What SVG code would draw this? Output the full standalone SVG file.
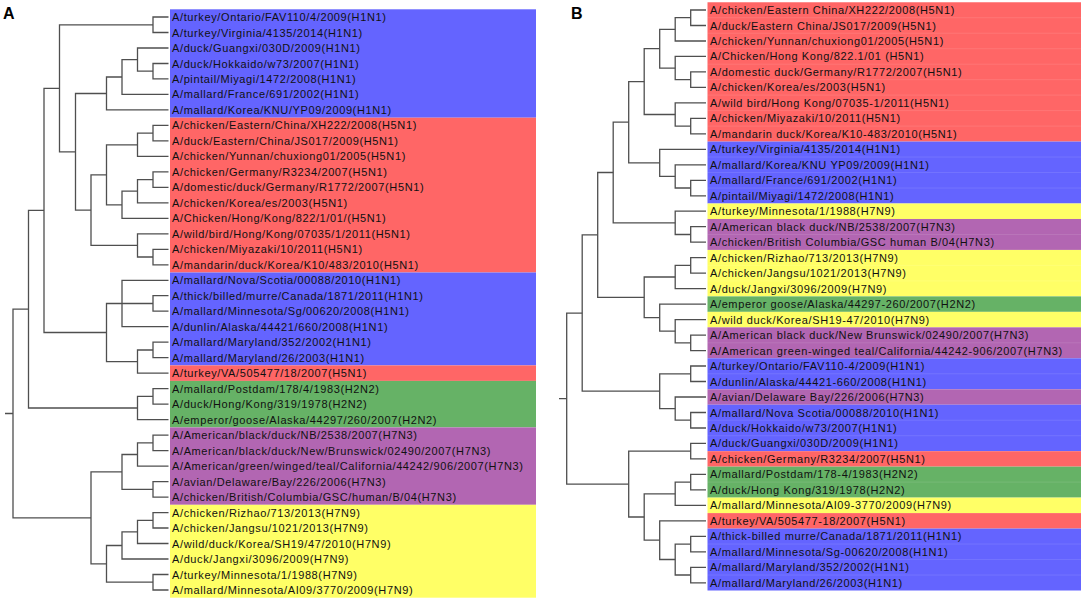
<svg xmlns="http://www.w3.org/2000/svg" width="1084" height="603" viewBox="0 0 1084 603">
<style>
.bl{fill:#6464ff}.rd{fill:#ff6666}.gr{fill:#66b266}.pu{fill:#b266b2}.ye{fill:#ffff66}
text{font-family:"Liberation Sans",Arial,sans-serif;font-size:11px;letter-spacing:0.62px;fill:#111}
.pl{font-size:16px;font-weight:bold;letter-spacing:0;fill:#000}
.br{fill:none;stroke:#4f4f4f;stroke-width:1.3}
.sep{stroke:#fff;stroke-opacity:0.18;stroke-width:0.6}
</style>
<rect width="1084" height="603" fill="#fff"/>
<g id="bands-A">
<rect class="bl" x="170" y="9.3" width="366" height="108.4"/>
<rect class="rd" x="170" y="117.7" width="366" height="154.8"/>
<rect class="bl" x="170" y="272.5" width="366" height="92.9"/>
<rect class="rd" x="170" y="365.4" width="366" height="15.5"/>
<rect class="gr" x="170" y="380.9" width="366" height="46.5"/>
<rect class="pu" x="170" y="427.4" width="366" height="77.4"/>
<rect class="ye" x="170" y="504.8" width="366" height="92.9"/>
</g>
<g id="bands-B">
<rect class="rd" x="707.5" y="2.26" width="373.5" height="139.32"/>
<rect class="bl" x="707.5" y="141.58" width="373.5" height="61.92"/>
<rect class="ye" x="707.5" y="203.5" width="373.5" height="15.48"/>
<rect class="pu" x="707.5" y="218.98" width="373.5" height="30.96"/>
<rect class="ye" x="707.5" y="249.94" width="373.5" height="46.44"/>
<rect class="gr" x="707.5" y="296.38" width="373.5" height="15.48"/>
<rect class="ye" x="707.5" y="311.86" width="373.5" height="15.48"/>
<rect class="pu" x="707.5" y="327.34" width="373.5" height="30.96"/>
<rect class="bl" x="707.5" y="358.3" width="373.5" height="30.96"/>
<rect class="pu" x="707.5" y="389.26" width="373.5" height="15.48"/>
<rect class="bl" x="707.5" y="404.74" width="373.5" height="46.44"/>
<rect class="rd" x="707.5" y="451.18" width="373.5" height="15.48"/>
<rect class="gr" x="707.5" y="466.66" width="373.5" height="30.96"/>
<rect class="ye" x="707.5" y="497.62" width="373.5" height="15.48"/>
<rect class="rd" x="707.5" y="513.1" width="373.5" height="15.48"/>
<rect class="bl" x="707.5" y="528.58" width="373.5" height="61.92"/>
<path class="sep" d="M707.5 17.74H1081M707.5 33.22H1081M707.5 48.7H1081M707.5 64.18H1081M707.5 79.66H1081M707.5 95.14H1081M707.5 110.62H1081M707.5 126.1H1081M707.5 157.06H1081M707.5 172.54H1081M707.5 188.02H1081M707.5 234.46H1081M707.5 265.42H1081M707.5 280.9H1081M707.5 342.82H1081M707.5 373.78H1081M707.5 420.22H1081M707.5 435.7H1081M707.5 482.14H1081M707.5 544.06H1081M707.5 559.54H1081M707.5 575.02H1081"/>
</g>
<text class="pl" x="3" y="19">A</text>
<text class="pl" x="571" y="19">B</text>
<g id="connectors" class="br">
<g id="tree-A">
<path class="br" d="M168.5 17H153V32.5H168.5"/>
<path class="br" d="M168.5 63.5H153V78.9H168.5"/>
<path class="br" d="M168.5 48H137.5V71.2H153"/>
<path class="br" d="M137.5 59.6H122V94.4H168.5"/>
<path class="br" d="M122 77H106.5V109.9H168.5"/>
<path class="br" d="M168.5 125.4H153V140.9H168.5"/>
<path class="br" d="M153 133.1H137.5V156.4H168.5"/>
<path class="br" d="M168.5 171.9H153V187.3H168.5"/>
<path class="br" d="M153 179.6H137.5V202.8H168.5"/>
<path class="br" d="M137.5 191.2H122V218.3H168.5"/>
<path class="br" d="M137.5 144.8H106.5V204.8H122"/>
<path class="br" d="M168.5 249.3H153V264.8H168.5"/>
<path class="br" d="M168.5 233.8H137.5V257H153"/>
<path class="br" d="M106.5 174.8H91V245.4H137.5"/>
<path class="br" d="M106.5 93.5H75.5V210.1H91"/>
<path class="br" d="M153 24.8H59.5V151.8H75.5"/>
<path class="br" d="M168.5 295.7H153V311.2H168.5"/>
<path class="br" d="M168.5 280.3H122V326.7H168.5M122 303.5H153"/>
<path class="br" d="M168.5 342.2H153V357.7H168.5"/>
<path class="br" d="M153 350H137.5V373.2H168.5"/>
<path class="br" d="M122 303.5H106.5V361.6H137.5"/>
<path class="br" d="M59.5 88.3H44V332.5H106.5"/>
<path class="br" d="M168.5 388.7H153V404.1H168.5"/>
<path class="br" d="M153 396.4H137.5V419.6H168.5"/>
<path class="br" d="M44 210.4H28.5V408H137.5"/>
<path class="br" d="M168.5 435.1H153V450.6H168.5"/>
<path class="br" d="M153 442.9H137.5V466.1H168.5"/>
<path class="br" d="M168.5 481.6H153V497.1H168.5"/>
<path class="br" d="M137.5 454.5H122V489.3H153"/>
<path class="br" d="M168.5 512.6H153V528H168.5"/>
<path class="br" d="M153 520.3H137.5V543.5H168.5"/>
<path class="br" d="M137.5 531.9H122V559H168.5"/>
<path class="br" d="M168.5 574.5H153V590H168.5"/>
<path class="br" d="M122 545.5H106.5V582.2H153"/>
<path class="br" d="M122 471.9H91V563.9H106.5"/>
<path class="br" d="M28.5 309.2H13V517.9H91M5 413.5H13"/>
</g>
<g id="tree-B">
<path class="br" d="M706 10H690.7V25.5H706"/>
<path class="br" d="M690.7 17.7H675.2V41H706"/>
<path class="br" d="M706 71.9H690.7V87.4H706"/>
<path class="br" d="M706 56.4H675.2V79.7H690.7"/>
<path class="br" d="M675.2 29.4H659.7V68.1H675.2"/>
<path class="br" d="M706 118.4H690.7V133.8H706"/>
<path class="br" d="M706 102.9H675.2V126.1H690.7"/>
<path class="br" d="M659.7 48.7H644.2V114.5H675.2"/>
<path class="br" d="M706 180.3H690.7V195.8H706"/>
<path class="br" d="M706 164.8H675.2V188H690.7"/>
<path class="br" d="M706 149.3H659.7V176.4H675.2"/>
<path class="br" d="M644.2 81.6H628.7V162.9H659.7"/>
<path class="br" d="M706 226.7H690.7V242.2H706"/>
<path class="br" d="M706 211.2H675.2V234.5H690.7"/>
<path class="br" d="M628.7 122.2H613.2V222.9H675.2"/>
<path class="br" d="M706 257.7H690.7V273.2H706"/>
<path class="br" d="M690.7 265.4H675.2V288.6H706"/>
<path class="br" d="M706 335.1H690.7V350.6H706"/>
<path class="br" d="M706 319.6H675.2V342.8H690.7"/>
<path class="br" d="M706 304.1H659.7V331.2H675.2"/>
<path class="br" d="M675.2 277H644.2V317.7H659.7"/>
<path class="br" d="M613.2 172.5H597.7V297.4H644.2"/>
<path class="br" d="M706 366H690.7V381.5H706"/>
<path class="br" d="M706 412.5H690.7V428H706"/>
<path class="br" d="M706 397H675.2V420.2H690.7"/>
<path class="br" d="M690.7 373.8H659.7V408.6H675.2"/>
<path class="br" d="M597.7 234.9H582.2V391.2H659.7"/>
<path class="br" d="M706 443.4H690.7V458.9H706"/>
<path class="br" d="M706 474.4H690.7V489.9H706"/>
<path class="br" d="M690.7 482.1H675.2V505.4H706"/>
<path class="br" d="M706 536.3H690.7V551.8H706"/>
<path class="br" d="M706 567.3H690.7V582.8H706"/>
<path class="br" d="M690.7 544.1H675.2V575H690.7"/>
<path class="br" d="M706 520.8H659.7V559.5H675.2"/>
<path class="br" d="M675.2 493.8H644.2V540.2H659.7"/>
<path class="br" d="M690.7 451.2H628.7V517H644.2"/>
<path class="br" d="M582.2 313.1H566.7V484.1H628.7M559 398.6H566.7"/>
</g>
</g>
<g id="leaves-A">
<g id="a01"><text x="172" y="21">A/turkey/Ontario/FAV110/4/2009(H1N1)</text></g>
<g id="a02"><text x="172" y="36.5">A/turkey/Virginia/4135/2014(H1N1)</text></g>
<g id="a03"><text x="172" y="52">A/duck/Guangxi/030D/2009(H1N1)</text></g>
<g id="a04"><text x="172" y="67.5">A/duck/Hokkaido/w73/2007(H1N1)</text></g>
<g id="a05"><text x="172" y="82.9">A/pintail/Miyagi/1472/2008(H1N1)</text></g>
<g id="a06"><text x="172" y="98.4">A/mallard/France/691/2002(H1N1)</text></g>
<g id="a07"><text x="172" y="113.9">A/mallard/Korea/KNU/YP09/2009(H1N1)</text></g>
<g id="a08"><text x="172" y="129.4">A/chicken/Eastern/China/XH222/2008(H5N1)</text></g>
<g id="a09"><text x="172" y="144.9">A/duck/Eastern/China/JS017/2009(H5N1)</text></g>
<g id="a10"><text x="172" y="160.4">A/chicken/Yunnan/chuxiong01/2005(H5N1)</text></g>
<g id="a11"><text x="172" y="175.9">A/chicken/Germany/R3234/2007(H5N1)</text></g>
<g id="a12"><text x="172" y="191.3">A/domestic/duck/Germany/R1772/2007(H5N1)</text></g>
<g id="a13"><text x="172" y="206.8">A/chicken/Korea/es/2003(H5N1)</text></g>
<g id="a14"><text x="172" y="222.3">A/Chicken/Hong/Kong/822/1/01/(H5N1)</text></g>
<g id="a15"><text x="172" y="237.8">A/wild/bird/Hong/Kong/07035/1/2011(H5N1)</text></g>
<g id="a16"><text x="172" y="253.3">A/chicken/Miyazaki/10/2011(H5N1)</text></g>
<g id="a17"><text x="172" y="268.8">A/mandarin/duck/Korea/K10/483/2010(H5N1)</text></g>
<g id="a18"><text x="172" y="284.3">A/mallard/Nova/Scotia/00088/2010(H1N1)</text></g>
<g id="a19"><text x="172" y="299.7">A/thick/billed/murre/Canada/1871/2011(H1N1)</text></g>
<g id="a20"><text x="172" y="315.2">A/mallard/Minnesota/Sg/00620/2008(H1N1)</text></g>
<g id="a21"><text x="172" y="330.7">A/dunlin/Alaska/44421/660/2008(H1N1)</text></g>
<g id="a22"><text x="172" y="346.2">A/mallard/Maryland/352/2002(H1N1)</text></g>
<g id="a23"><text x="172" y="361.7">A/mallard/Maryland/26/2003(H1N1)</text></g>
<g id="a24"><text x="172" y="377.2">A/turkey/VA/505477/18/2007(H5N1)</text></g>
<g id="a25"><text x="172" y="392.7">A/mallard/Postdam/178/4/1983(H2N2)</text></g>
<g id="a26"><text x="172" y="408.1">A/duck/Hong/Kong/319/1978(H2N2)</text></g>
<g id="a27"><text x="172" y="423.6">A/emperor/goose/Alaska/44297/260/2007(H2N2)</text></g>
<g id="a28"><text x="172" y="439.1">A/American/black/duck/NB/2538/2007(H7N3)</text></g>
<g id="a29"><text x="172" y="454.6">A/American/black/duck/New/Brunswick/02490/2007(H7N3)</text></g>
<g id="a30"><text x="172" y="470.1">A/American/green/winged/teal/California/44242/906/2007(H7N3)</text></g>
<g id="a31"><text x="172" y="485.6">A/avian/Delaware/Bay/226/2006(H7N3)</text></g>
<g id="a32"><text x="172" y="501.1">A/chicken/British/Columbia/GSC/human/B/04(H7N3)</text></g>
<g id="a33"><text x="172" y="516.6">A/chicken/Rizhao/713/2013(H7N9)</text></g>
<g id="a34"><text x="172" y="532">A/chicken/Jangsu/1021/2013(H7N9)</text></g>
<g id="a35"><text x="172" y="547.5">A/wild/duck/Korea/SH19/47/2010(H7N9)</text></g>
<g id="a36"><text x="172" y="563">A/duck/Jangxi/3096/2009(H7N9)</text></g>
<g id="a37"><text x="172" y="578.5">A/turkey/Minnesota/1/1988(H7N9)</text></g>
<g id="a38"><text x="172" y="594">A/mallard/Minnesota/AI09/3770/2009(H7N9)</text></g>
</g>
<g id="leaves-B">
<g id="b01"><text x="710" y="14">A/chicken/Eastern China/XH222/2008(H5N1)</text></g>
<g id="b02"><text x="710" y="29.5">A/duck/Eastern China/JS017/2009(H5N1)</text></g>
<g id="b03"><text x="710" y="45">A/chicken/Yunnan/chuxiong01/2005(H5N1)</text></g>
<g id="b04"><text x="710" y="60.4">A/Chicken/Hong Kong/822.1/01 (H5N1)</text></g>
<g id="b05"><text x="710" y="75.9">A/domestic duck/Germany/R1772/2007(H5N1)</text></g>
<g id="b06"><text x="710" y="91.4">A/chicken/Korea/es/2003(H5N1)</text></g>
<g id="b07"><text x="710" y="106.9">A/wild bird/Hong Kong/07035-1/2011(H5N1)</text></g>
<g id="b08"><text x="710" y="122.4">A/chicken/Miyazaki/10/2011(H5N1)</text></g>
<g id="b09"><text x="710" y="137.8">A/mandarin duck/Korea/K10-483/2010(H5N1)</text></g>
<g id="b10"><text x="710" y="153.3">A/turkey/Virginia/4135/2014(H1N1)</text></g>
<g id="b11"><text x="710" y="168.8">A/mallard/Korea/KNU YP09/2009(H1N1)</text></g>
<g id="b12"><text x="710" y="184.3">A/mallard/France/691/2002(H1N1)</text></g>
<g id="b13"><text x="710" y="199.8">A/pintail/Miyagi/1472/2008(H1N1)</text></g>
<g id="b14"><text x="710" y="215.2">A/turkey/Minnesota/1/1988(H7N9)</text></g>
<g id="b15"><text x="710" y="230.7">A/American black duck/NB/2538/2007(H7N3)</text></g>
<g id="b16"><text x="710" y="246.2">A/chicken/British Columbia/GSC human B/04(H7N3)</text></g>
<g id="b17"><text x="710" y="261.7">A/chicken/Rizhao/713/2013(H7N9)</text></g>
<g id="b18"><text x="710" y="277.2">A/chicken/Jangsu/1021/2013(H7N9)</text></g>
<g id="b19"><text x="710" y="292.6">A/duck/Jangxi/3096/2009(H7N9)</text></g>
<g id="b20"><text x="710" y="308.1">A/emperor goose/Alaska/44297-260/2007(H2N2)</text></g>
<g id="b21"><text x="710" y="323.6">A/wild duck/Korea/SH19-47/2010(H7N9)</text></g>
<g id="b22"><text x="710" y="339.1">A/American black duck/New Brunswick/02490/2007(H7N3)</text></g>
<g id="b23"><text x="710" y="354.6">A/American green-winged teal/California/44242-906/2007(H7N3)</text></g>
<g id="b24"><text x="710" y="370">A/turkey/Ontario/FAV110-4/2009(H1N1)</text></g>
<g id="b25"><text x="710" y="385.5">A/dunlin/Alaska/44421-660/2008(H1N1)</text></g>
<g id="b26"><text x="710" y="401">A/avian/Delaware Bay/226/2006(H7N3)</text></g>
<g id="b27"><text x="710" y="416.5">A/mallard/Nova Scotia/00088/2010(H1N1)</text></g>
<g id="b28"><text x="710" y="432">A/duck/Hokkaido/w73/2007(H1N1)</text></g>
<g id="b29"><text x="710" y="447.4">A/duck/Guangxi/030D/2009(H1N1)</text></g>
<g id="b30"><text x="710" y="462.9">A/chicken/Germany/R3234/2007(H5N1)</text></g>
<g id="b31"><text x="710" y="478.4">A/mallard/Postdam/178-4/1983(H2N2)</text></g>
<g id="b32"><text x="710" y="493.9">A/duck/Hong Kong/319/1978(H2N2)</text></g>
<g id="b33"><text x="710" y="509.4">A/mallard/Minnesota/AI09-3770/2009(H7N9)</text></g>
<g id="b34"><text x="710" y="524.8">A/turkey/VA/505477-18/2007(H5N1)</text></g>
<g id="b35"><text x="710" y="540.3">A/thick-billed murre/Canada/1871/2011(H1N1)</text></g>
<g id="b36"><text x="710" y="555.8">A/mallard/Minnesota/Sg-00620/2008(H1N1)</text></g>
<g id="b37"><text x="710" y="571.3">A/mallard/Maryland/352/2002(H1N1)</text></g>
<g id="b38"><text x="710" y="586.8">A/mallard/Maryland/26/2003(H1N1)</text></g>
</g>
</svg>
